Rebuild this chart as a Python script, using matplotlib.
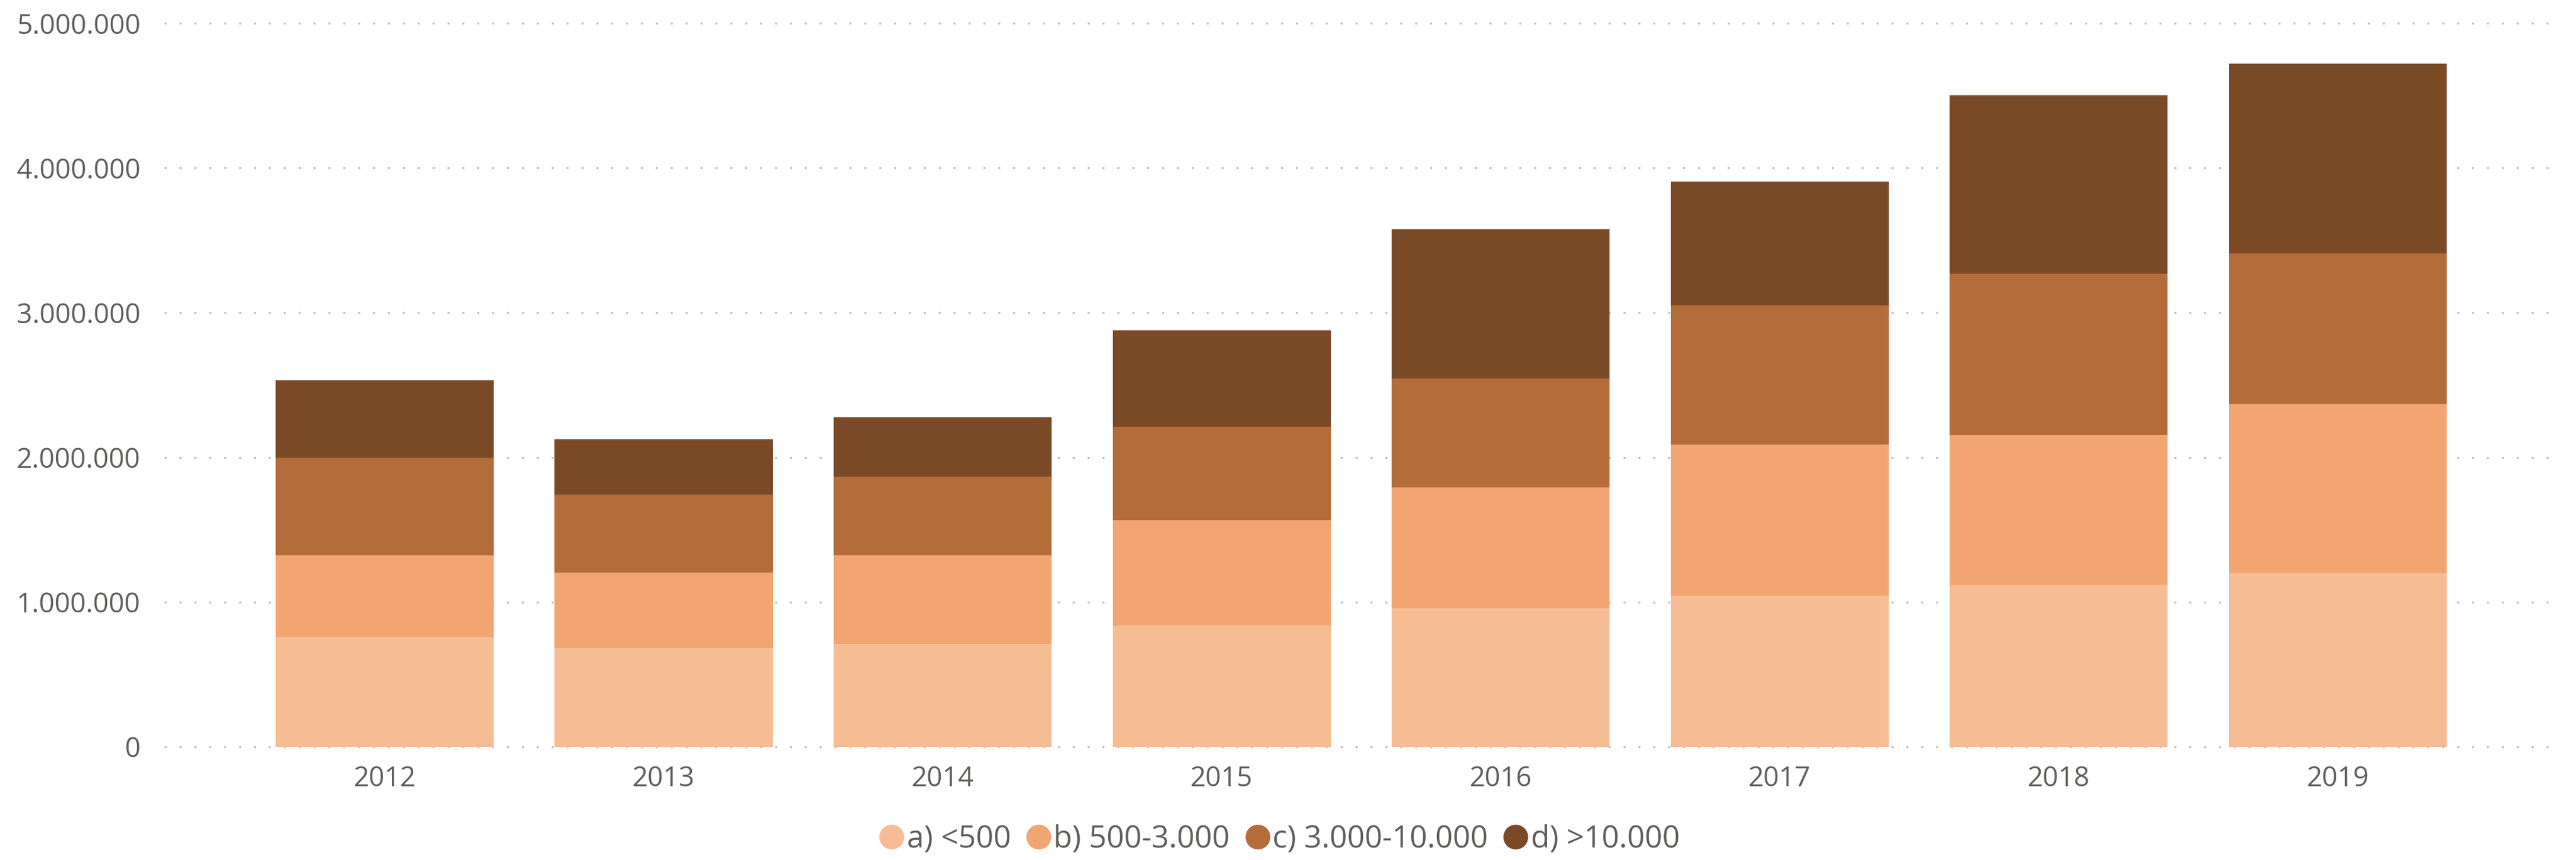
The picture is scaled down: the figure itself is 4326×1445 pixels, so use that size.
import numpy as np
import matplotlib
matplotlib.use("Agg")
import matplotlib.pyplot as plt
from matplotlib.ticker import FuncFormatter
from matplotlib.lines import Line2D

plt.rcParams['font.family'] = ['Open Sans', 'DejaVu Sans']

# Data
years = ['2012', '2013', '2014', '2015', '2016', '2017', '2018', '2019']
seg_a = [760000, 681000, 711000, 837000, 960000, 1043000, 1119000, 1199000]
seg_b = [562000, 522000, 611000, 730000, 831000, 1045000, 1037000, 1171000]
seg_c = [676000, 542000, 544000, 647000, 755000, 963000, 1114000, 1037000]
seg_d = [535000, 381000, 414000, 664000, 1031000, 856000, 1234000, 1315000]
labels = ['a) <500', 'b) 500-3.000', 'c) 3.000-10.000', 'd) >10.000']
colors = ['#F6BD94', '#F2A571', '#B46C3A', '#7A4A26']
text_color = '#605E5C'

fig = plt.figure(figsize=(43.26, 14.45), dpi=100)
ax = fig.add_axes([0.0638, 0.1315, 0.9260, 0.8415])

x = np.arange(len(years))
bottom = np.zeros(len(years))
for vals, col in zip([seg_a, seg_b, seg_c, seg_d], colors):
    ax.bar(x, vals, width=0.782, bottom=bottom, color=col, linewidth=0, zorder=2)
    bottom += np.array(vals)

ax.set_xlim(-0.79, 7.76)
ax.set_ylim(0, 5000000)
ax.set_yticks(np.arange(0, 5000001, 1000000))
ax.yaxis.set_major_formatter(FuncFormatter(lambda v, p: f"{int(v):,}".replace(',', '.')))
ax.set_xticks(x)
ax.set_xticklabels(years)

# dotted gridlines
for v in ax.get_yticks():
    ax.axhline(v, color='#BDBDBD', linewidth=2.4, linestyle=(0, (1, 6.5)),
               dash_capstyle='butt', zorder=1, clip_on=False)

for s in ax.spines.values():
    s.set_visible(False)
ax.tick_params(axis='both', length=0, labelsize=33, colors=text_color)
ax.tick_params(axis='y', pad=29)
ax.tick_params(axis='x', pad=22)

handles = [Line2D([0], [0], marker='o', linestyle='none', markersize=30,
                  markerfacecolor=c, markeredgewidth=0) for c in colors]
leg = fig.legend(handles, labels, loc='center', bbox_to_anchor=(0.497, 0.024),
                 ncol=4, frameon=False, fontsize=37, handlelength=0.7,
                 handletextpad=0.15, columnspacing=0.55, labelcolor=text_color)

fig.savefig('out.png', dpi=100, facecolor='white')
